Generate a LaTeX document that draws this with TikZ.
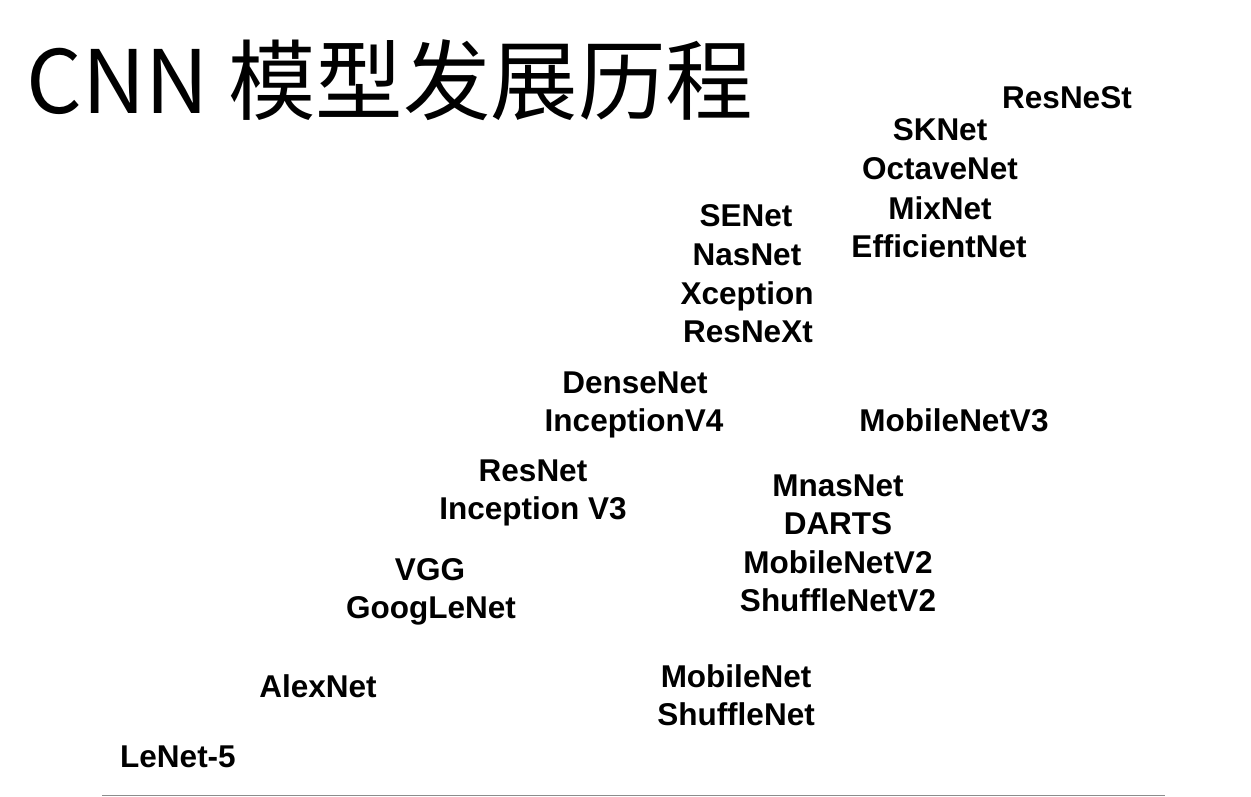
\documentclass[tikz,border=0pt]{standalone}
\usepackage{fontspec}
\setmainfont{Liberation Sans}
\newfontfamily\cjk{Noto Sans CJK SC}
\begin{document}
\begin{tikzpicture}[x=1pt,y=-1pt,
  lbl/.style={font=\bfseries\fontsize{31.5}{36}\selectfont, inner sep=0pt, anchor=base},
  ttl/.style={font=\cjk\fontsize{87.5}{90}\selectfont, inner sep=0pt, anchor=base west},
  axis/.style={draw=black!45, line width=1.6pt}]
\useasboundingbox[fill=white] (0,0) rectangle (1251,797);
\node[ttl] (title) at (26,114) {CNN 模型发展历程};
% top right
\node[lbl] (resnest) at (1067,109) {ResNeSt};
\node[lbl] (sknet) at (940,141) {SKNet};
\node[lbl] (octave) at (940,180) {OctaveNet};
\node[lbl] (mixnet) at (940,219) {MixNet};
\node[lbl] (effnet) at (939,257) {EfficientNet};
% middle-top
\node[lbl] (senet) at (746,226) {SENet};
\node[lbl] (nasnet) at (747,265) {NasNet};
\node[lbl] (xception) at (747,304) {Xception};
\node[lbl] (resnext) at (748,342) {ResNeXt};
% middle
\node[lbl] (densenet) at (635,393) {DenseNet};
\node[lbl] (incv4) at (634,431) {InceptionV4};
\node[lbl] (mbv3) at (954,431) {MobileNetV3};
\node[lbl] (resnet) at (533,481) {ResNet};
\node[lbl] (incv3) at (533,519) {Inception V3};
\node[lbl] (mnasnet) at (838,496) {MnasNet};
\node[lbl] (darts) at (838,534) {DARTS};
\node[lbl] (mbv2) at (838,573) {MobileNetV2};
\node[lbl] (shv2) at (838,611) {ShuffleNetV2};
\node[lbl] (vgg) at (430,580) {VGG};
\node[lbl] (googlenet) at (431,618) {GoogLeNet};
\node[lbl] (mobilenet) at (736,687) {MobileNet};
\node[lbl] (shufflenet) at (736,725) {ShuffleNet};
\node[lbl] (alexnet) at (318,697) {AlexNet};
\node[lbl] (lenet) at (178,767) {LeNet-5};
% baseline axis
\coordinate (axl) at (102,795.5);
\coordinate (axr) at (1165,795.5);
\draw[axis] (axl) -- (axr);
\end{tikzpicture}
\end{document}
